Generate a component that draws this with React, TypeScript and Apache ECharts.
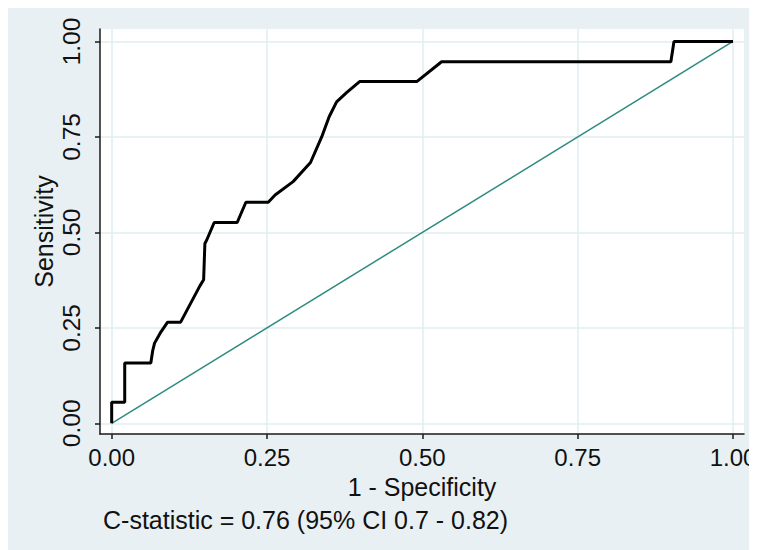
import React, { useEffect, useRef } from "react";
import * as echarts from "echarts";

// ROC curve points
const fpr = [0, 0, 0.021, 0.021, 0.063, 0.066, 0.069, 0.078, 0.09, 0.111, 0.142, 0.148, 0.15, 0.153, 0.165, 0.202, 0.216, 0.252, 0.263, 0.292, 0.32, 0.338, 0.35, 0.362, 0.378, 0.399, 0.491, 0.531, 0.9, 0.905, 1.0];
const tpr = [0, 0.055, 0.055, 0.158, 0.158, 0.19, 0.21, 0.236, 0.265, 0.265, 0.36, 0.376, 0.471, 0.48, 0.526, 0.526, 0.579, 0.579, 0.598, 0.633, 0.683, 0.75, 0.803, 0.842, 0.866, 0.895, 0.895, 0.947, 0.947, 1.0, 1.0];
const refX = [0, 1];
const refY = [0, 1];
const tickValues = [0, 0.25, 0.5, 0.75, 1];
const xTitle = "1 - Specificity";
const yTitle = "Sensitivity";
const note = "C-statistic = 0.76 (95% CI 0.7 - 0.82)";

const FONT = "'Liberation Sans', Arial, sans-serif";

export default function App() {
  const ref = useRef<HTMLDivElement>(null);
  useEffect(() => {
    if (!ref.current) return;
    const chart = echarts.init(ref.current, null, { renderer: "svg" });
    const axisCommon = {
      type: "value" as const,
      axisLine: { show: true, onZero: false, lineStyle: { color: "#1a1a1a", width: 1.5 } },
      axisTick: { show: true, inside: false, length: 5, customValues: tickValues, lineStyle: { color: "#1a1a1a", width: 1.5 } },
      splitLine: { show: true, lineStyle: { color: "#e0ecf0", width: 1.5 } },
      nameLocation: "middle" as const,
      nameMoveOverlap: false,
      nameTextStyle: { fontSize: 25, color: "#111", fontFamily: FONT },
    };
    chart.setOption({
      animation: false,
      backgroundColor: "#e9f0f3",
      textStyle: { fontFamily: FONT },
      title: {
        text: note,
        left: 95,
        top: 499,
        padding: 0,
        textStyle: { fontSize: 25, fontWeight: "normal", color: "#111", fontFamily: FONT },
      },
      grid: {
        left: 92,
        top: 21,
        right: 13,
        bottom: 116,
        show: true,
        backgroundColor: "#ffffff",
        borderWidth: 0,
        containLabel: false,
        outerBoundsMode: "none",
      },
      xAxis: {
        ...axisCommon,
        min: -0.0188,
        max: 1.0177,
        name: xTitle,
        nameGap: 40,
        axisLabel: {
          customValues: tickValues,
          formatter: (v: number) => v.toFixed(2),
          fontSize: 24,
          color: "#111",
          margin: 11,
          fontFamily: FONT,
        },
      },
      yAxis: {
        ...axisCommon,
        min: -0.028,
        max: 1.0327,
        name: yTitle,
        nameGap: 44,
        axisLabel: {
          customValues: tickValues,
          formatter: (v: number) => v.toFixed(2),
          rotate: 90,
          fontSize: 24.5,
          color: "#111",
          margin: 16,
          fontFamily: FONT,
        },
      },
      series: [
        {
          type: "line",
          data: refX.map((x, i) => [x, refY[i]]),
          symbol: "none",
          lineStyle: { color: "#2e8b7f", width: 1.5 },
          silent: true,
          z: 2,
        },
        {
          type: "line",
          data: fpr.map((x, i) => [x, tpr[i]]),
          symbol: "none",
          lineStyle: { color: "#000", width: 3 },
          silent: true,
          z: 3,
        },
      ],
    });
    return () => chart.dispose();
  }, []);
  return <div ref={ref} style={{ width: 749, height: 542 }} />;
}
